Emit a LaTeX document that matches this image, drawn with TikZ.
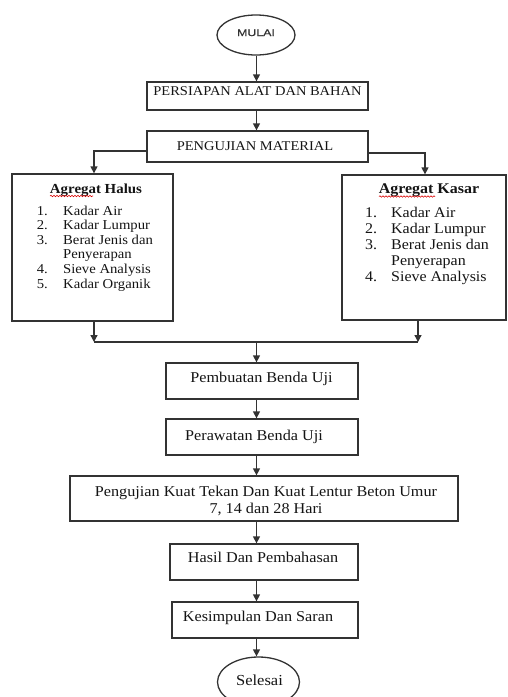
\documentclass[tikz,border=0pt]{standalone}
\usepackage{fontspec}
\setmainfont[FakeStretch=1.08]{Liberation Serif}
\newfontfamily\mulaifont[FakeStretch=1.3,FakeBold=0.8]{Liberation Sans}
\usetikzlibrary{arrows.meta,shapes.geometric,decorations.pathmorphing}
\definecolor{ink}{HTML}{141414}
\definecolor{linec}{HTML}{333333}
\tikzset{
 boxs/.style={draw=linec,line width=1.3pt,inner sep=0pt,rectangle},
 ovals/.style={draw=linec,line width=1.3pt,ellipse,inner sep=0pt},
 lbl/.style={inner sep=0pt,anchor=base,text=ink},
 arr/.style={draw=linec,line width=1.3pt,-{Triangle[width=7pt,length=7pt]}},
 wire/.style={draw=linec,line width=1.3pt},
 spell/.style={draw=red!85!black,line width=0.6pt,decorate,decoration={snake,amplitude=0.7pt,segment length=3pt}}
}
\begin{document}
\begin{tikzpicture}[x=1pt,y=-1pt]
\useasboundingbox (0,0) rectangle (507,697);
% shapes
\node[ovals,minimum width=78pt,minimum height=40pt] (mulai) at (256,35) {};
\node[boxs,minimum width=221pt,minimum height=28pt] (persiapan) at (257.5,96) {};
\node[boxs,minimum width=221pt,minimum height=31pt] (pengujian) at (257.5,146.5) {};
\node[boxs,minimum width=161pt,minimum height=147pt] (halus) at (92.5,247.5) {};
\node[boxs,minimum width=164pt,minimum height=145pt] (kasar) at (424,247.5) {};
\node[boxs,minimum width=192pt,minimum height=36pt] (pemb) at (262,381) {};
\node[boxs,minimum width=192pt,minimum height=36pt] (peraw) at (262,437) {};
\node[boxs,minimum width=388pt,minimum height=45pt] (kuat) at (264,498.5) {};
\node[boxs,minimum width=188pt,minimum height=36pt] (hasil) at (264,562) {};
\node[boxs,minimum width=186pt,minimum height=36pt] (kesim) at (265,620) {};
\node[ovals,minimum width=82pt,minimum height=50pt] (selesai) at (258.5,682) {};
% texts
\node[lbl,text=linec,font=\mulaifont\fontsize{9.5}{11}\selectfont] (mulaiT) at (256,36) {MULAI};
\node[lbl,font=\fontsize{13.4}{15}\selectfont] (persiapanT) at (257.5,95) {PERSIAPAN ALAT DAN BAHAN};
\node[lbl,font=\fontsize{13.4}{15}\selectfont] (pengujianT) at (255,150) {PENGUJIAN MATERIAL};
\node[lbl,font=\bfseries\fontsize{13.8}{15}\selectfont] (halusT) at (96,193.3) {Agregat Halus};
\node[lbl,font=\bfseries\fontsize{14.8}{16}\selectfont] (kasarT) at (429,193.3) {Agregat Kasar};
\node[lbl,anchor=base west,font=\fontsize{13.6}{14.6}\selectfont] (halusL) at (36.7,215) {%
\begin{tabular}[t]{@{}p{26.3pt}@{}l@{}}
1. & Kadar Air\\
2. & Kadar Lumpur\\
3. & Berat Jenis dan\\
   & Penyerapan\\
4. & Sieve Analysis\\
5. & Kadar Organik
\end{tabular}};
\node[lbl,anchor=base west,font=\fontsize{14.8}{16.1}\selectfont] (kasarL) at (365,217.3) {%
\begin{tabular}[t]{@{}p{26pt}@{}l@{}}
1. & Kadar Air\\
2. & Kadar Lumpur\\
3. & Berat Jenis dan\\
   & Penyerapan\\
4. & Sieve Analysis
\end{tabular}};
\node[lbl,font=\fontsize{15}{17}\selectfont] (pembT) at (261.5,382.7) {Pembuatan Benda Uji};
\node[lbl,font=\fontsize{15}{17}\selectfont] (perawT) at (254,440) {Perawatan Benda Uji};
\node[lbl,font=\fontsize{15}{17}\selectfont] (kuatT1) at (266,496) {Pengujian Kuat Tekan Dan Kuat Lentur Beton Umur};
\node[lbl,font=\fontsize{15}{17}\selectfont] (kuatT2) at (266,513) {7, 14 dan 28 Hari};
\node[lbl,font=\fontsize{15}{17}\selectfont] (hasilT) at (263,562) {Hasil Dan Pembahasan};
\node[lbl,font=\fontsize{15}{17}\selectfont] (kesimT) at (258,621) {Kesimpulan Dan Saran};
\node[lbl,font=\fontsize{15.3}{17}\selectfont] (selesaiT) at (259.5,685) {Selesai};
% spell-check marks
\draw[spell] (50,196) -- (93,196);
\draw[spell] (379,196.5) -- (435,196.5);
% connectors
\coordinate (cx) at (256.5,0);
\coordinate (bl) at (94,151);
\coordinate (br) at (425,153);
\coordinate (m1) at (94,342);
\coordinate (m2) at (418,342);
\draw[arr] (mulai.south -| cx) -- (persiapan.north -| cx);
\draw[arr] (persiapan.south -| cx) -- (pengujian.north -| cx);
\draw[arr] (pengujian.west |- bl) -- (bl) -- (halus.north -| bl);
\draw[arr] (pengujian.east |- br) -- (br) -- (kasar.north -| br);
\draw[arr] (halus.south -| m1) -- (m1);
\draw[arr] (kasar.south -| m2) -- (m2);
\draw[wire] (m1) -- (m2);
\draw[arr] (m1 -| cx) -- (pemb.north -| cx);
\draw[arr] (pemb.south -| cx) -- (peraw.north -| cx);
\draw[arr] (peraw.south -| cx) -- (kuat.north -| cx);
\draw[arr] (kuat.south -| cx) -- (hasil.north -| cx);
\draw[arr] (hasil.south -| cx) -- (kesim.north -| cx);
\draw[arr] (kesim.south -| cx) -- (selesai.north -| cx);
\end{tikzpicture}
\end{document}
